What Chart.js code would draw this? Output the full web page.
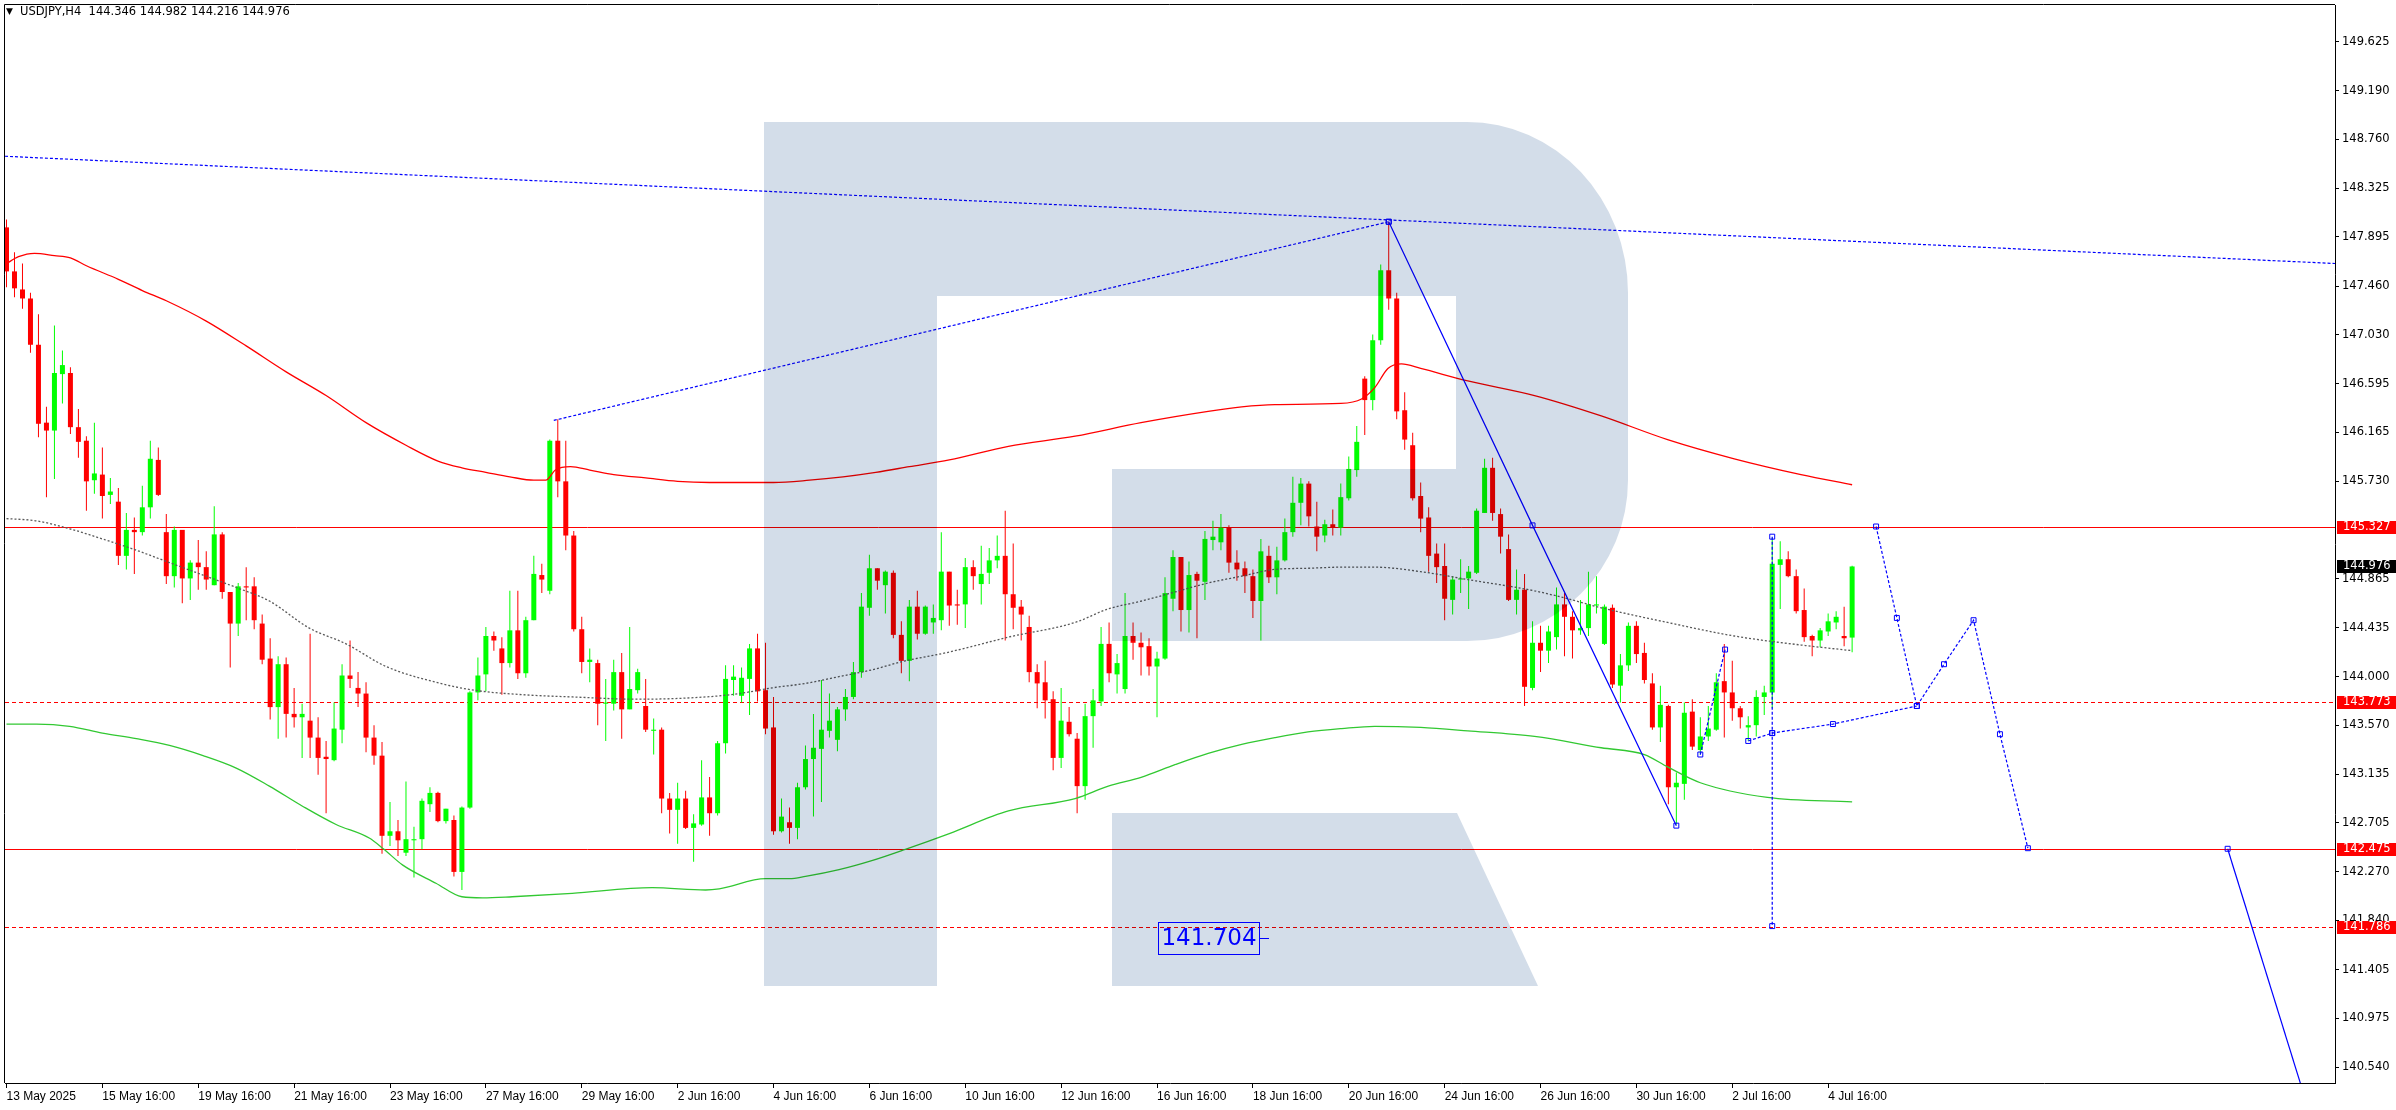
<!DOCTYPE html>
<html>
<head>
<meta charset="utf-8">
<script src="https://cdn.jsdelivr.net/npm/chart.js@4.4.1/dist/chart.umd.min.js"></script>
<style>
  html, body { margin: 0; padding: 0; background: #fff; overflow: hidden; }
  #wrap { width: 2396px; height: 1110px; }
</style>
</head>
<body>
<div id="wrap"><canvas id="usdjpy" width="2396" height="1110"></canvas></div>
<script>
// USDJPY H4 candles, bar 0 = 13 May 16:00
const opens = [
  147.98,147.59,147.43,147.35,146.94,146.25,146.18,146.68,146.69,146.21,
  146.09,145.74,145.79,145.61,145.55,145.07,145.30,145.28,145.50,145.92,
  145.28,144.89,145.30,144.87,145.01,144.97,144.81,145.26,144.75,144.47,
  144.80,144.80,144.47,144.16,143.73,144.11,143.67,143.64,143.61,143.46,
  143.29,143.26,143.53,144.01,143.90,143.85,143.46,143.30,142.59,142.63,
  142.44,142.55,142.56,142.87,142.97,142.72,142.73,142.27,142.84,143.86,
  144.02,144.36,144.25,144.12,144.41,144.03,144.50,144.90,144.76,146.09,
  145.73,145.25,144.42,144.13,144.12,143.76,143.76,144.04,143.71,143.88,
  143.74,143.52,143.53,142.92,142.82,142.92,142.66,142.69,142.93,142.79,
  143.41,143.97,143.83,143.98,144.25,143.88,143.55,142.63,142.71,142.66,
  143.02,143.27,143.36,143.52,143.44,143.71,143.82,144.04,144.61,144.96,
  144.81,144.92,144.37,144.14,144.62,144.38,144.48,144.50,144.93,144.64,
  144.64,144.97,144.82,144.92,145.03,145.07,144.73,144.62,144.44,144.04,
  143.95,143.80,143.28,143.60,143.45,143.03,143.65,143.78,144.29,144.02,
  143.89,144.36,144.30,144.27,144.09,144.16,144.69,145.06,144.59,144.91,
  144.84,145.21,145.19,145.32,145.01,144.96,144.89,144.67,145.07,144.88,
  145.03,145.28,145.54,145.71,145.33,145.25,145.35,145.32,145.58,145.83,
  146.64,146.45,146.98,147.60,147.35,146.36,146.05,145.60,145.41,145.09,
  144.98,144.68,144.86,144.87,144.92,145.45,145.85,145.44,145.13,144.68,
  144.77,143.90,144.30,144.23,144.35,144.64,144.53,144.41,144.43,144.63,
  144.29,144.61,143.92,144.10,144.45,144.21,143.94,143.55,143.74,143.02,
  143.05,143.69,143.35,143.47,143.53,143.96,143.86,143.72,143.55,143.57,
  143.82,143.86,144.99,145.04,144.89,144.59,144.36,144.32,144.40,144.48,
  144.36,144.346
];
const highs = [
  148.05,147.76,147.66,147.40,147.21,146.39,147.11,146.89,146.74,146.37,
  146.13,146.25,146.03,145.76,145.67,145.45,145.41,145.69,146.09,146.03,
  145.44,145.33,145.30,145.03,145.21,145.11,145.51,145.28,144.75,144.83,
  144.97,144.88,144.55,144.34,144.18,144.17,143.90,143.76,144.38,143.64,
  143.43,143.77,144.11,144.32,144.04,143.95,143.57,143.42,142.89,142.73,
  143.07,142.67,142.92,143.02,142.98,142.83,142.77,142.85,143.87,144.17,
  144.44,144.40,144.35,144.76,144.76,144.53,145.07,145.00,146.10,146.28,
  146.09,145.29,144.53,144.25,144.15,143.98,144.15,144.21,144.44,144.07,
  143.98,143.63,143.55,142.97,143.06,142.99,142.78,143.26,143.11,143.43,
  144.10,144.10,144.08,144.29,144.38,144.30,143.82,142.92,142.84,143.06,
  143.39,143.67,143.97,143.85,143.73,143.89,144.13,144.74,145.08,144.96,
  144.94,144.94,144.49,144.68,144.76,144.63,144.64,145.28,144.93,144.77,
  145.05,145.03,145.16,145.14,145.25,145.47,145.18,144.68,144.54,144.11,
  144.14,143.87,143.90,143.73,143.50,143.76,143.89,144.44,144.48,144.20,
  144.74,144.48,144.39,144.34,144.22,144.88,145.12,145.06,145.02,144.93,
  145.29,145.38,145.44,145.34,145.12,145.02,144.95,145.22,145.16,145.15,
  145.40,145.77,145.76,145.73,145.55,145.39,145.48,145.71,145.95,146.22,
  146.66,147.03,147.65,148.03,147.40,146.52,146.16,145.72,145.50,145.18,
  145.18,144.89,145.04,144.98,145.49,145.93,145.94,145.49,145.26,144.95,
  144.91,144.49,144.45,144.45,144.79,144.74,144.58,144.68,144.93,144.89,
  144.64,144.64,144.20,144.48,144.49,144.30,144.03,143.92,143.75,143.15,
  143.77,143.80,143.64,143.74,144.03,144.29,144.14,143.74,143.65,143.88,
  143.92,145.23,145.20,145.11,144.95,144.78,144.37,144.43,144.56,144.58,
  144.62,144.982
];
const lows = [
  147.45,147.36,147.26,146.87,146.12,145.59,145.75,146.42,146.15,145.94,
  145.47,145.62,145.40,145.53,144.99,144.95,144.91,145.25,145.40,145.60,
  144.82,144.79,144.65,144.68,144.77,144.77,144.81,144.69,144.08,144.36,
  144.50,144.42,144.11,143.62,143.45,143.46,143.55,143.28,143.28,143.13,
  142.79,143.25,143.41,143.90,143.73,143.33,143.22,142.43,142.50,142.41,
  142.41,142.22,142.47,142.80,142.71,142.70,142.23,142.11,142.83,143.79,
  143.87,144.23,143.84,144.08,143.98,143.99,144.50,144.74,144.73,145.59,
  145.12,144.40,144.03,143.95,143.57,143.43,143.70,143.45,143.71,143.85,
  143.51,143.31,142.79,142.61,142.52,142.65,142.36,142.68,142.59,142.77,
  143.32,143.83,143.77,143.66,143.78,143.49,142.60,142.62,142.52,142.56,
  143.00,142.76,142.89,143.46,143.34,143.61,143.80,143.99,144.54,144.77,
  144.56,144.34,144.03,143.96,144.33,144.37,144.38,144.41,144.45,144.46,
  144.43,144.77,144.64,144.82,144.96,144.32,144.42,144.32,143.95,143.72,
  143.63,143.17,143.19,143.47,142.79,142.91,143.37,143.74,143.95,143.85,
  143.85,144.15,144.01,144.01,143.64,144.15,144.58,144.40,144.39,144.34,
  144.68,145.12,145.12,144.92,144.85,144.74,144.52,144.32,144.83,144.73,
  145.02,145.24,145.34,145.33,145.11,145.19,145.25,145.25,145.56,145.77,
  146.14,146.36,146.94,147.25,146.28,146.01,145.56,145.28,144.93,144.83,
  144.50,144.55,144.74,144.60,144.91,145.45,145.38,145.09,144.67,144.55,
  143.74,143.88,144.04,144.12,144.24,144.18,144.16,144.37,144.36,144.56,
  144.28,143.90,143.77,144.05,144.12,143.94,143.53,143.42,142.87,142.69,
  142.91,143.35,143.31,143.43,143.52,143.46,143.61,143.54,143.43,143.47,
  143.66,143.72,144.60,144.88,144.56,144.31,144.18,144.26,144.36,144.42,
  144.27,144.216
];
const closes = [
  147.59,147.44,147.35,146.94,146.24,146.18,146.69,146.76,146.21,146.08,
  145.73,145.80,145.60,145.64,145.07,145.30,145.28,145.50,145.93,145.61,
  144.89,145.30,144.87,145.01,144.97,144.86,145.26,144.75,144.47,144.80,
  144.79,144.50,144.15,143.73,144.11,143.67,143.64,143.67,143.46,143.28,
  143.27,143.54,144.01,143.98,143.85,143.46,143.30,142.59,142.63,142.55,
  142.56,142.56,142.90,142.97,142.72,142.83,142.27,142.84,143.86,144.01,
  144.36,144.32,144.12,144.41,144.03,144.50,144.91,144.86,146.09,145.73,
  145.25,144.42,144.13,144.15,143.76,143.77,144.04,143.71,143.89,144.04,
  143.53,143.53,142.92,142.82,142.92,142.66,142.70,142.93,142.79,143.41,
  143.98,144.00,143.99,144.25,143.87,143.54,142.63,142.76,142.66,143.02,
  143.27,143.37,143.53,143.61,143.71,143.82,144.04,144.62,144.96,144.85,
  144.93,144.37,144.14,144.62,144.38,144.62,144.52,144.93,144.63,144.63,
  144.97,144.89,144.91,145.03,145.07,144.73,144.61,144.55,144.04,143.94,
  143.79,143.28,143.61,143.49,143.03,143.65,143.79,144.29,144.03,144.12,
  144.36,144.30,144.26,144.09,144.16,144.74,145.06,144.59,144.90,144.85,
  145.22,145.24,145.32,145.01,144.95,144.89,144.67,145.11,144.88,145.03,
  145.28,145.54,145.71,145.42,145.24,145.35,145.32,145.59,145.84,146.08,
  146.45,146.98,147.60,147.35,146.35,146.10,145.58,145.40,145.07,144.97,
  144.69,144.86,144.87,144.93,145.47,145.85,145.45,145.24,144.68,144.77,
  143.91,144.30,144.23,144.40,144.64,144.53,144.41,144.43,144.64,144.64,
  144.62,143.93,144.10,144.45,144.20,143.97,143.55,143.75,143.02,143.06,
  143.68,143.38,143.47,143.54,143.95,143.86,143.72,143.64,143.57,143.82,
  143.86,145.00,145.04,144.89,144.58,144.35,144.32,144.41,144.49,144.53,
  144.34,144.976
];

// moving averages, read at a few bars each
const redMaBars = [0,1.5,3.5,6,8,10,14,17,20,25,30,35,40,45,50,54,57,60,63,66,67.5,68.7,70.6,73,76,80,84,88,96,100.5,104.7,108.8,113,118,125.4,133.75,142,150.4,154.6,158.75,167,169.6,171.25,172.9,174.6,177,182.9,191.25,199.6,207.9,216.25,224.6,231];
const redMaVals = [147.66,147.72,147.75,147.73,147.71,147.64,147.52,147.42,147.33,147.15,146.93,146.70,146.49,146.25,146.05,145.91,145.85,145.81,145.77,145.74,145.74,145.83,145.86,145.83,145.79,145.76,145.73,145.72,145.72,145.74,145.77,145.81,145.86,145.92,146.04,146.13,146.25,146.35,146.39,146.41,146.42,146.46,146.56,146.73,146.77,146.73,146.62,146.49,146.31,146.10,145.93,145.79,145.70];
const greenMaBars = [0,3.75,7.9,12,16.25,20.4,24.6,28.75,32.9,37.1,41.25,45.4,47.25,49.6,53.75,57,59.6,63.3,70.8,80.8,87.5,89.2,95,98,100,104.2,108.3,112.5,118,125.4,133.75,137.9,142.1,146.25,150.4,154.6,158.75,162.9,167.1,171.25,177,182.9,191.25,199.6,205,207.9,212,220.4,231];
const greenMaVals = [143.58,143.58,143.56,143.50,143.45,143.39,143.30,143.19,143.03,142.85,142.69,142.57,142.47,142.33,142.17,142.05,142.04,142.05,142.08,142.13,142.11,142.12,142.21,142.21,142.23,142.29,142.37,142.47,142.61,142.81,142.92,143.03,143.11,143.22,143.32,143.40,143.46,143.51,143.54,143.56,143.55,143.52,143.47,143.37,143.31,143.20,143.06,142.93,142.89];
const greyMaBars = [0,3.75,7.9,12,16.25,20.4,24.6,28.75,32.9,37.9,42.5,47.5,53.75,58.5,64.6,70.8,79.2,87.5,91.7,95.8,100,104.2,108.3,112.5,117.5,125.4,133.75,137.9,142.1,146.25,150.4,154.6,158.75,162.9,167.1,171.25,177,182.9,191.25,195.4,199.6,207.9,216.25,224.6,231];
const greyMaVals = [145.40,145.38,145.31,145.22,145.12,145.01,144.90,144.79,144.67,144.43,144.29,144.09,143.95,143.88,143.84,143.82,143.80,143.82,143.85,143.90,143.94,144.00,144.06,144.14,144.21,144.35,144.48,144.60,144.67,144.75,144.83,144.89,144.95,144.96,144.97,144.97,144.93,144.86,144.76,144.69,144.61,144.48,144.36,144.28,144.23];

// analysis objects (bar, price)
const topTrendBars = [-0.19, 291.44],  topTrendVals = [148.61, 147.66];
const riseTrendBars = [68.5, 173],      riseTrendVals = [146.27, 148.03];
const dropBars = [173, 191, 209],       dropVals = [148.03, 145.34, 142.68];
const smallWaveBars = [212, 215.1],     smallWaveVals = [143.31, 144.24];
const vertBars = [221, 221, 221],       vertVals = [145.24, 143.50, 141.79];
const baseRiseBars = [218, 221, 228.6, 239.1], baseRiseVals = [143.43, 143.50, 143.58, 143.74];
const forecastBars = [234.0, 236.6, 239.1, 242.5, 246.2, 249.5, 253.0];
const forecastVals = [145.33, 144.52, 143.74, 144.11, 144.50, 143.49, 142.48];
const finalBars = [278, 287.4],          finalVals = [142.475, 140.33];

// horizontal levels and axis labels
const levelVals = [145.327, 143.773, 142.475, 141.786];
const levelDashed = [false, true, false, true];
const lastPrice = 144.976;
const yTickValues = [149.625,149.190,148.760,148.325,147.895,147.460,147.030,146.595,146.165,145.730,144.865,144.435,144.000,143.570,143.135,142.705,142.270,141.840,141.405,140.975,140.540];
const xTickBars = [0,12,24,36,48,60,72,84,96,108,120,132,144,156,168,180,192,204,216,228];
const xTickLabels = ['13 May 2025','15 May 16:00','19 May 16:00','21 May 16:00','23 May 16:00','27 May 16:00','29 May 16:00','2 Jun 16:00','4 Jun 16:00','6 Jun 16:00','10 Jun 16:00','12 Jun 16:00','16 Jun 16:00','18 Jun 16:00','20 Jun 16:00','24 Jun 16:00','26 Jun 16:00','30 Jun 16:00','2 Jul 16:00','4 Jul 16:00'];

const UP = '#00ff00', DOWN = '#ff0000', BLUE = '#0000ff';
const candleColors = closes.map((c, i) => c >= opens[i] ? UP : DOWN);
const pairs = (xs, ys) => xs.map((x, i) => ({ x: x, y: ys[i] }));

function blueLine(xs, ys, dashed, marks) {
  return {
    type: 'line', data: pairs(xs, ys), order: 1,
    borderColor: BLUE, borderWidth: 1.2, borderDash: dashed ? [3, 2] : [],
    pointStyle: 'rect', pointRadius: marks, pointBorderColor: BLUE,
    pointBackgroundColor: 'rgba(0,0,0,0)', pointBorderWidth: 1, tension: 0
  };
}
function maLine(xs, ys, color, dash) {
  return {
    type: 'line', data: pairs(xs, ys), order: 3,
    borderColor: color, borderWidth: 1.3, borderDash: dash,
    pointRadius: 0, cubicInterpolationMode: 'monotone'
  };
}

const decor = {
  id: 'decor',
  beforeDraw(chart) {
    const c = chart.ctx;
    c.save(); c.fillStyle = '#fff'; c.fillRect(0, 0, chart.width, chart.height); c.restore();
  },
  beforeDatasetsDraw(chart) {
    const c = chart.ctx, a = chart.chartArea, y = chart.scales.y;
    c.save();
    c.strokeStyle = '#ff0000'; c.lineWidth = 1;
    levelVals.forEach((v, i) => {
      const py = Math.round(y.getPixelForValue(v)) + 0.5;
      c.setLineDash(levelDashed[i] ? [4, 3] : []);
      c.beginPath(); c.moveTo(a.left, py); c.lineTo(a.right, py); c.stroke();
    });
    c.restore();
  },
  afterDatasetsDraw(chart) {
    // RoboForex style "R" watermark, multiplied over the chart
    const c = chart.ctx, a = chart.chartArea;
    c.save();
    c.beginPath(); c.rect(a.left, a.top, a.right - a.left, a.bottom - a.top); c.clip();
    c.globalCompositeOperation = 'multiply';
    c.fillStyle = '#d3dde9';
    c.beginPath();
    c.moveTo(764, 122); c.lineTo(1467, 122);
    c.ellipse(1467, 293, 161, 171, 0, -Math.PI / 2, 0);
    c.lineTo(1628, 480);
    c.ellipse(1467, 480, 161, 161, 0, 0, Math.PI / 2);
    c.lineTo(1112, 641); c.lineTo(1112, 469); c.lineTo(1456, 469); c.lineTo(1456, 296);
    c.lineTo(937, 296); c.lineTo(937, 986); c.lineTo(764, 986); c.closePath();
    c.moveTo(1112, 813); c.lineTo(1457, 813); c.lineTo(1538, 986); c.lineTo(1112, 986); c.closePath();
    c.fill();
    c.restore();
  },
  afterDraw(chart) {
    const c = chart.ctx, a = chart.chartArea, x = chart.scales.x, y = chart.scales.y;
    c.save();
    // frame
    c.strokeStyle = '#000'; c.lineWidth = 1;
    c.beginPath(); c.moveTo(a.left - 0.5, a.bottom); c.lineTo(a.left - 0.5, a.top - 0.5); c.lineTo(a.right, a.top - 0.5); c.stroke();

    // price label boxes on the right axis
    c.font = '11.5px "DejaVu Sans"'; c.textBaseline = 'middle'; c.textAlign = 'left';
    const tag = (v, bg) => {
      const py = Math.round(y.getPixelForValue(v));
      c.fillStyle = bg; c.fillRect(a.right + 2, py - 6, chart.width - a.right - 2, 13);
      c.fillStyle = '#fff'; c.fillText(v.toFixed(3), a.right + 8, py + 0.5);
    };
    levelVals.forEach(v => tag(v, '#ff0000'));
    tag(lastPrice, '#000');

    // header
    c.fillStyle = '#000';
    c.font = '9px "DejaVu Sans"'; c.fillText('\u25BC', 6, 12);
    c.font = '11.5px "DejaVu Sans"';
    c.fillText('USDJPY,H4  ' + [opens, highs, lows, closes].map(s => s[s.length - 1].toFixed(3)).join(' '), 20, 12);

    // price label 141.704
    const lx = x.getPixelForValue(156.8), ly = Math.round(y.getPixelForValue(141.704)) + 2;
    c.strokeStyle = BLUE; c.fillStyle = BLUE;
    c.strokeRect(Math.round(lx) - 100.5, ly - 15.5, 101, 32);
    c.beginPath(); c.moveTo(Math.round(lx), ly + 0.5); c.lineTo(Math.round(lx) + 10, ly + 0.5); c.stroke();
    c.font = '23px "DejaVu Sans"'; c.textAlign = 'center';
    c.fillText('141.704', Math.round(lx) - 50, ly + 1);

    if (![highs, lows, closes].every(s => s.length === opens.length)) {
      c.fillStyle = 'magenta'; c.font = '20px sans-serif'; c.fillText('LENGTH MISMATCH', 600, 40);
    }
    c.restore();
  }
};

new Chart(document.getElementById('usdjpy'), {
  type: 'bar',
  data: {
    datasets: [
      blueLine(topTrendBars, topTrendVals, true, 0),
      blueLine(riseTrendBars, riseTrendVals, true, [0, 3.5]),
      blueLine(dropBars, dropVals, false, 3.5),
      blueLine(smallWaveBars, smallWaveVals, true, 3.5),
      blueLine(vertBars, vertVals, true, 3.5),
      blueLine(baseRiseBars, baseRiseVals, true, 3.5),
      blueLine(forecastBars, forecastVals, true, 3.5),
      blueLine(finalBars, finalVals, false, [3.5, 0]),
      maLine(redMaBars, redMaVals, '#ff0000', []),
      maLine(greenMaBars, greenMaVals, '#32c832', []),
      maLine(greyMaBars, greyMaVals, '#5a5a5a', [2, 2]),
      {
        type: 'bar', order: 5, grouped: false, barThickness: 5, minBarLength: 1,
        data: opens.map((o, i) => ({ x: i, y: [o, closes[i]] })),
        backgroundColor: candleColors, borderWidth: 0, inflateAmount: 0
      },
      {
        type: 'bar', order: 6, grouped: false, barThickness: 1,
        data: opens.map((o, i) => ({ x: i, y: [lows[i], highs[i]] })),
        backgroundColor: candleColors, borderWidth: 0, inflateAmount: 0
      }
    ]
  },
  options: {
    responsive: false, animation: false, devicePixelRatio: 1, events: [],
    layout: { padding: { left: 2, top: 2, right: 0, bottom: 0 } },
    plugins: { legend: { display: false }, tooltip: { enabled: false } },
    scales: {
      x: {
        type: 'linear', min: -0.1875, max: 291.4375, offset: false,
        afterBuildTicks: s => { s.ticks = xTickBars.map(v => ({ value: v })); },
        afterFit: s => { s.height = 27; s.paddingLeft = 0; s.paddingRight = 0; },
        ticks: {
          callback: (v, i) => xTickLabels[i], align: 'start', maxRotation: 0, minRotation: 0,
          autoSkip: false, padding: 1, color: '#000', font: { family: 'Liberation Sans', size: 12 }
        },
        grid: { drawOnChartArea: false, drawTicks: true, tickLength: 5, color: '#000', offset: false },
        border: { display: true, color: '#000', width: 1 }
      },
      y: {
        type: 'linear', position: 'right', min: 140.40, max: 149.95,
        afterBuildTicks: s => { s.ticks = yTickValues.map(v => ({ value: v })); },
        afterFit: s => { s.width = 61; s.paddingTop = 0; s.paddingBottom = 0; },
        ticks: {
          callback: v => v.toFixed(3), autoSkip: false, padding: 3, color: '#000',
          font: { family: 'DejaVu Sans', size: 11.5 }
        },
        grid: { drawOnChartArea: false, drawTicks: true, tickLength: 4, color: '#000' },
        border: { display: true, color: '#000', width: 1 }
      }
    }
  },
  plugins: [decor]
});
</script>
</body>
</html>
